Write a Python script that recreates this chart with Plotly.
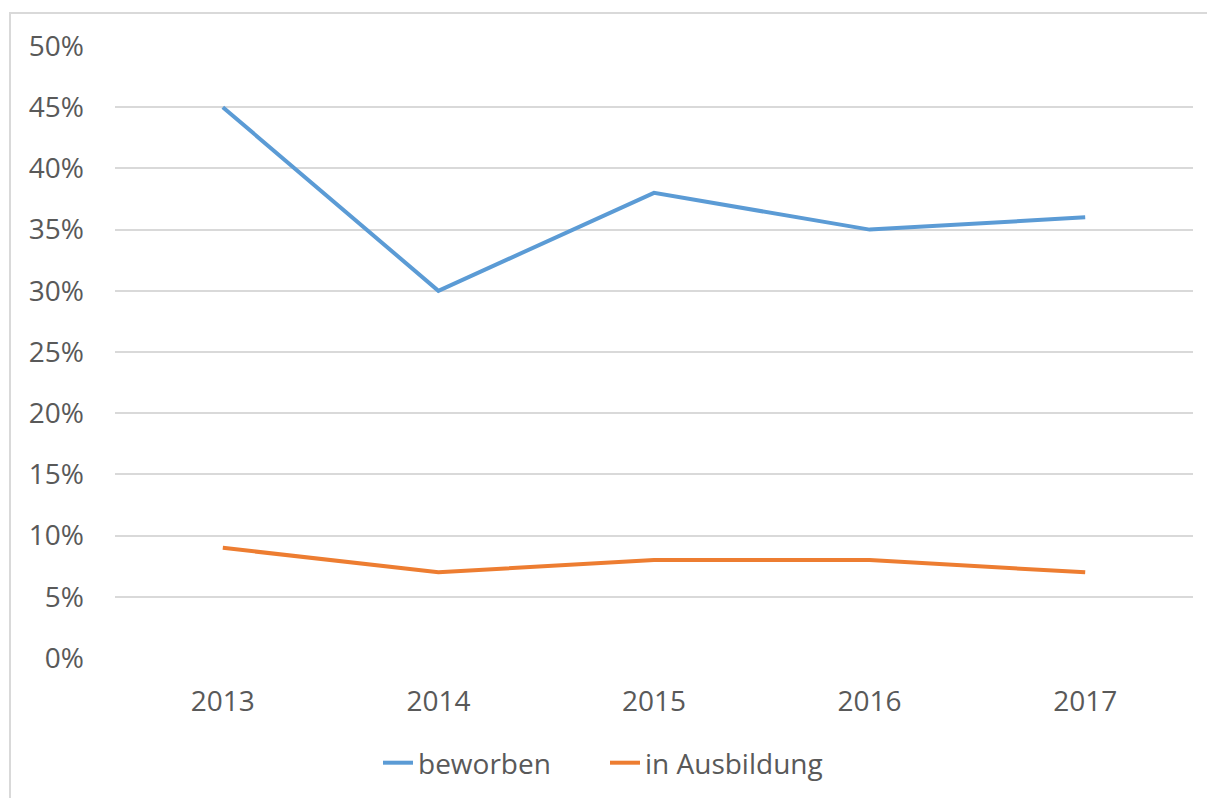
import plotly.graph_objects as go

years = ["2013", "2014", "2015", "2016", "2017"]
beworben = [0.45, 0.30, 0.38, 0.35, 0.36]
in_ausbildung = [0.09, 0.07, 0.08, 0.08, 0.07]
y_ticks = [0, 0.05, 0.10, 0.15, 0.20, 0.25, 0.30, 0.35, 0.40, 0.45, 0.50]
y_tick_labels = [f"{int(round(v*100))}%" for v in y_ticks]

FONT = "Open Sans"
TXT = "#595959"
GRID = "#d9d9d9"
FS = 28

fig = go.Figure()
fig.add_trace(go.Scatter(x=years, y=beworben, mode="lines", name="beworben",
                         line=dict(color="#5B9BD5", width=4)))
fig.add_trace(go.Scatter(x=years, y=in_ausbildung, mode="lines", name="in Ausbildung",
                         line=dict(color="#ED7D31", width=4)))

OFF = 8  # page body margin
W, H = 1215, 798
L, T = 115 - OFF, 46 - OFF
R = W - (1193 - OFF)
B = H - (658 - OFF)
pw, ph = W - L - R, H - T - B

def px_x(x):
    return (x - OFF - L) / pw

def px_y(y):
    return (H - B - (y - OFF)) / ph

fig.add_shape(type="rect", xref="paper", yref="paper",
              x0=px_x(10), x1=px_x(1230), y0=px_y(820), y1=px_y(13),
              line=dict(color=GRID, width=2), fillcolor="rgba(0,0,0,0)", layer="below")

fig.update_layout(
    width=W, height=H,
    margin=dict(l=L, r=R, t=T, b=B),
    paper_bgcolor="white", plot_bgcolor="white",
    font=dict(family=FONT, size=FS, color=TXT),
    showlegend=True,
    legend=dict(orientation="h", x=px_x(378), xanchor="left", y=px_y(763), yanchor="middle",
                font=dict(size=FS, color=TXT), tracegroupgap=0,
                entrywidth=182, entrywidthmode="pixels"),
)
fig.update_xaxes(type="category", range=[-0.5, 4.5], showgrid=False, zeroline=False,
                 showline=False, ticks="", ticklabelstandoff=24,
                 tickfont=dict(size=FS, color=TXT))
fig.update_yaxes(range=[0, 0.5], tickvals=y_ticks, ticktext=y_tick_labels,
                 showgrid=True, gridcolor=GRID, gridwidth=1.5, zeroline=False,
                 showline=False, ticks="", ticklabelstandoff=30,
                 tickfont=dict(size=FS, color=TXT))

fig.write_html("out.html")
